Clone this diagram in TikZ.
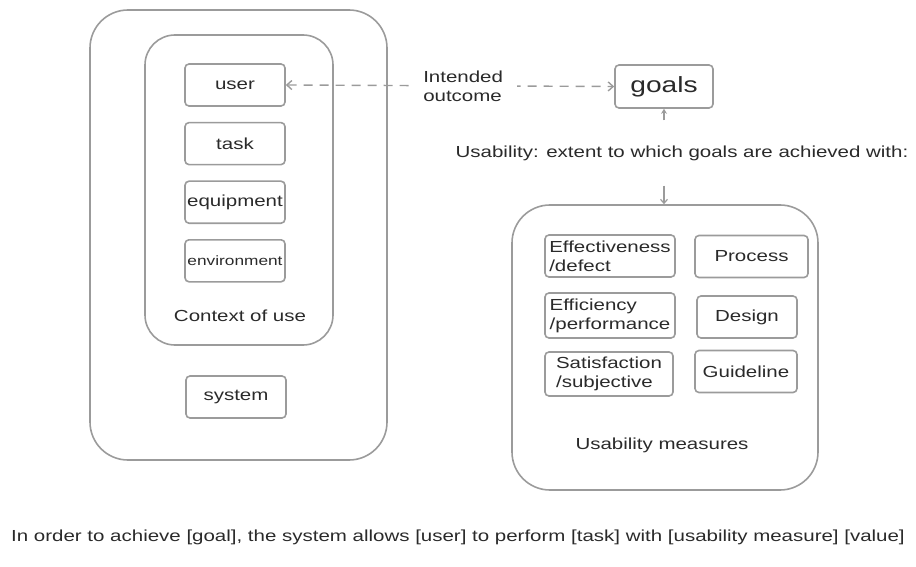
\documentclass[tikz,border=0pt]{standalone}
\usepackage{fontspec}
\setmainfont{Liberation Sans}[FakeStretch=1.28]
\usetikzlibrary{arrows.meta,positioning}
\definecolor{ln}{HTML}{9B9B9B}
\definecolor{tx}{HTML}{2A2A2A}
\tikzset{
  frame/.style={
    rectangle, rounded corners=38pt, draw=ln, line width=1.6pt
  },
  item/.style={
    rectangle, rounded corners=4pt, draw=ln, line width=1.6pt,
    text=tx, font=\fontsize{16}{19}\selectfont,
    minimum width=100pt, minimum height=42pt, inner sep=1pt, align=center
  },
  mitem/.style={item, minimum width=130pt, align=left},
  lbl/.style={text=tx, font=\fontsize{16}{19}\selectfont, align=left},
  dasharr/.style={
    draw=ln, line width=1.4pt, dash pattern=on 9pt off 7pt,
    {Straight Barb[length=5pt,width=9pt]}-{Straight Barb[length=5pt,width=9pt]}
  },
  arr/.style={draw=ln, line width=1.2pt}
}

\begin{document}
\begin{tikzpicture}[x=1pt, y=-1pt]
\useasboundingbox (0,0) rectangle (916,567);

% ── Left: system and context of use ───────────────────────────────
\node[frame, minimum width=297pt, minimum height=450pt] (sysframe) at (238.5,235) {};
\node[frame, rounded corners=30pt, minimum width=188pt, minimum height=310pt]
  (ctxframe) at (239,190) {};

\node[item] (user) at (235,85) {user};
\node[item, below=15pt of user] (task) {task};
\node[item, below=15pt of task] (equip) {equipment};
\node[item, below=15pt of equip, font=\fontsize{13.5}{15}\selectfont] (env) {environment};
\node[lbl] (ctxlbl) at (240,316) {Context of use};

\node[item] (system) at (236,397) {system};

% ── Goals ─────────────────────────────────────────────────────────
\node[item, minimum width=98pt, minimum height=43pt,
  font=\fontsize{22}{24}\selectfont] (goals) at (664,86.5) {goals};

\draw[dasharr] (user.east) --
  node[lbl, pos=0.54, fill=white, inner xsep=14pt] (intended) {Intended\\outcome} (goals.west);

% ── Usability label and its arrows ────────────────────────────────
\node[lbl, inner ysep=25pt] (usab) at (682,153)
  {Usability: extent to which goals are achieved with:};

% ── Right: usability measures ─────────────────────────────────────
\node[frame, minimum width=306pt, minimum height=285pt] (measframe) at (665,347.5) {};

\node[mitem] (effect) at (610,256) {Effectiveness\\/defect};
\node[mitem, minimum height=45pt] (effic) at (610,315.5) {Efficiency\\/performance};
\node[mitem, minimum width=128pt, minimum height=44pt] (satis) at (609,374)
  {Satisfaction\\/subjective};

\node[item, minimum width=113pt] (process) at (751.5,256.5) {Process};
\node[item] (design) at (747,317) {Design};
\node[item, minimum width=102pt] (guide) at (746,371.5) {Guideline};

\node[lbl] (measlbl) at (662,445) {Usability measures};

\draw[arr, -{Stealth[length=5pt,width=6pt]}] (usab.north -| goals.south) -- (goals.south);
\draw[arr, -{Straight Barb[length=4pt,width=7pt]}]
  (usab.south -| goals.south) -- (measframe.north -| goals.south);

% ── Bottom sentence ───────────────────────────────────────────────
\node[lbl] (sentence) at (458,537)
  {In order to achieve [goal], the system allows [user] to perform [task] with [usability measure] [value]};

\end{tikzpicture}
\end{document}
